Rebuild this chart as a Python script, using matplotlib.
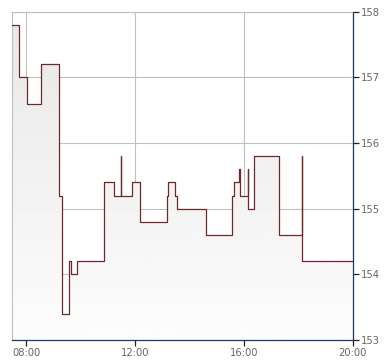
import numpy as np
import matplotlib
matplotlib.use("Agg")
from matplotlib import pyplot as plt

# price steps (time of change, new price)
times = ["07:29", "07:44", "08:02", "08:32", "09:11", "09:19", "09:35", "09:39",
         "09:52", "10:51", "11:13", "11:28", "11:29", "11:52", "12:11", "13:10",
         "13:13", "13:28", "13:33", "14:36", "15:33", "15:38", "15:50", "15:52",
         "16:08", "16:09", "16:23", "17:18", "18:07", "18:08", "20:00"]
prices = [157.8, 157.0, 156.6, 157.2, 155.2, 153.4, 154.2, 154.0,
          154.2, 155.4, 155.2, 155.8, 155.2, 155.4, 154.8, 155.2,
          155.4, 155.2, 155.0, 154.6, 155.2, 155.4, 155.6, 155.2,
          155.6, 155.0, 155.8, 154.6, 155.8, 154.2, 154.2]

xtick_hours = [8, 12, 16, 20]
xtick_labels = ["08:00", "12:00", "16:00", "20:00"]
ytick_vals = [153, 154, 155, 156, 157, 158]

hours = np.array([int(t[:2]) + int(t[3:]) / 60 for t in times])
prices = np.array(prices)

grid_c = "#c0c0c0"
navy = "#1c3a66"
line_c = "#6e2a2a"
text_c = "#666666"

fig = plt.figure(figsize=(3.9, 3.64), dpi=100)
ax = fig.add_axes([0.0315, 0.066, 0.873, 0.902])
ax.set_xlim(hours[0], 20)
ax.set_ylim(153, 158)

# gradient fill under the step line
fill = ax.fill_between(hours, prices, 153, step="post", color="none", lw=0)
grad = np.linspace(0.99, 0.905, 256).reshape(-1, 1)
img = ax.imshow(grad, cmap="gray", vmin=0, vmax=1, aspect="auto",
                extent=(hours[0], 20, 153, 158), origin="lower", zorder=1)
img.set_clip_path(fill.get_paths()[0], transform=ax.transData)

ax.step(hours, prices, where="post", color=line_c, lw=0.9, zorder=3)

ax.set_xticks(xtick_hours)
ax.set_xticklabels(xtick_labels)
ax.set_yticks(ytick_vals)
ax.yaxis.tick_right()
ax.grid(True, color=grid_c, lw=0.8, zorder=0)
ax.set_axisbelow(True)

for s in ["left", "top"]:
    ax.spines[s].set_color(grid_c)
    ax.spines[s].set_linewidth(0.8)
for s in ["right", "bottom"]:
    ax.spines[s].set_color(navy)
    ax.spines[s].set_linewidth(0.9)
    ax.spines[s].set_zorder(4)

ax.tick_params(axis="both", direction="out", length=4, width=0.9, color="#222222",
               labelsize=7.2, labelcolor=text_c, pad=2)

fig.savefig("out.png", dpi=100)
